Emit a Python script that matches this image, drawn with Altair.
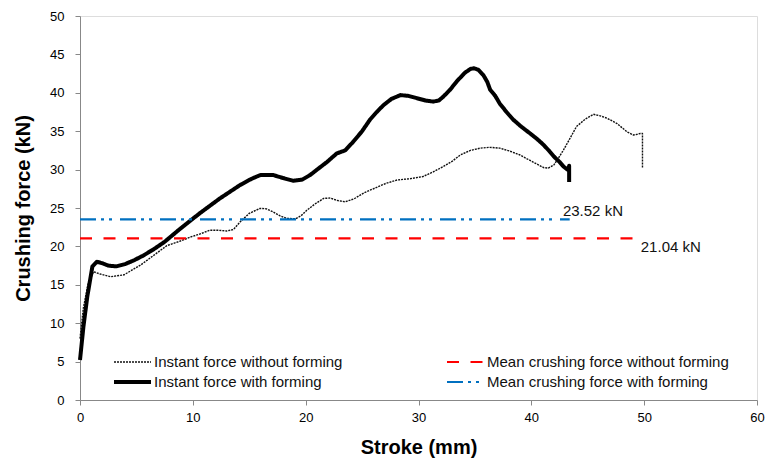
import altair as alt
import pandas as pd

# ---- data ----
with_x = [0, 0.3, 0.65, 1.1, 1.5, 2.0, 2.5, 3.2, 4.0, 4.8, 5.6, 6.5, 7.5, 8.8, 10.6, 12.4,
          14.2, 15.2, 16.0, 17.1, 18.0, 18.9, 19.7, 20.4, 21.1, 21.9, 22.75, 23.5, 24.2, 25.0,
          25.7, 26.3, 26.9, 27.6, 28.4, 29.1, 29.85, 30.6, 31.3, 31.8, 32.2, 32.8, 33.4, 34.1,
          34.6, 34.9, 35.3, 35.75, 36.1, 36.35, 36.8, 37.2, 37.8, 38.4, 39.1, 39.9, 40.5, 41.1,
          41.6, 42.0, 42.5, 42.85, 43.3, 43.35, 43.35]
with_y = [5.2, 9.5, 13.5, 17.4, 18.0, 17.8, 17.5, 17.4, 17.7, 18.2, 18.8, 19.6, 20.6, 22.2,
          24.3, 26.25, 28.0, 28.8, 29.3, 29.3, 28.9, 28.55, 28.7, 29.3, 30.1, 31.0, 32.1, 32.5,
          33.6, 35.0, 36.5, 37.5, 38.4, 39.2, 39.7, 39.6, 39.3, 39.0, 38.85, 39.0, 39.5, 40.4,
          41.5, 42.6, 43.1, 43.2, 43.0, 42.3, 41.4, 40.4, 39.6, 38.6, 37.5, 36.5, 35.6, 34.7,
          34.0, 33.2, 32.4, 31.7, 31.0, 30.4, 29.9, 30.5, 28.4]

without_x = [0, 0.3, 0.7, 1.2, 1.8, 2.7, 3.9, 5.4, 6.5, 7.7, 8.9, 9.75, 10.6, 11.5, 12.3, 13.0,
             13.6, 14.2, 15.0, 15.96, 16.5, 17.1, 17.7, 18.3, 19.1, 19.6, 20.1, 20.8, 21.6, 22.2,
             22.75, 23.5, 24.3, 25.2, 26.15, 27.1, 28.1, 29.2, 30.4, 31.3, 32.2, 33.0, 33.7, 34.6,
             35.5, 36.3, 37.2, 38.1, 39.0, 40.0, 41.1, 41.5, 42.0, 42.4, 42.85, 43.4, 44.0, 44.8,
             45.5, 46.1, 46.7, 47.6, 48.0, 48.5, 49.05, 49.4, 49.65, 49.85, 49.85]
without_y = [8, 12, 15, 16.7, 16.4, 16.05, 16.3, 17.6, 18.8, 20.1, 20.7, 21.2, 21.6, 22.1, 22.1,
             22.0, 22.2, 23.2, 24.3, 24.95, 24.9, 24.5, 24.0, 23.65, 23.6, 24.0, 24.7, 25.5, 26.25,
             26.3, 26.0, 25.8, 26.2, 27.0, 27.6, 28.2, 28.65, 28.8, 29.1, 29.7, 30.4, 31.1, 31.9,
             32.5, 32.8, 32.9, 32.8, 32.4, 31.9, 31.1, 30.25, 30.2, 30.6, 31.5, 32.55, 34.0, 35.6,
             36.6, 37.2, 37.0, 36.7, 36.0, 35.5, 34.9, 34.5, 34.6, 34.7, 34.7, 30.2]

mean_without = 21.04
mean_with = 23.52
mean_without_x = [0, 49.3]
mean_with_x = [0, 43.4]

# legend is filled column by column: left column = instant forces, right = means
series_names = ["Instant force without forming", "Instant force with forming",
                "Mean crushing force without forming", "Mean crushing force with forming"]
series_colors = ["#111111", "#000000", "#ff0000", "#0070c0"]
series_dash = [[2, 1], [1, 0], [12, 11.5], [16, 5, 3, 5, 3, 8]]
series_width = [1.4, 4.0, 2.2, 2.2]

label_text = ["23.52 kN", "21.04 kN"]
label_x = [42.8, 49.7]
label_y = [24.6, 19.9]

rows = []
for i, (x, y) in enumerate(zip(without_x, without_y)):
    rows.append({"series": series_names[0], "x": x, "y": y, "o": i})
for i, x in enumerate(mean_without_x):
    rows.append({"series": series_names[2], "x": x, "y": mean_without, "o": i})
for i, (x, y) in enumerate(zip(with_x, with_y)):
    rows.append({"series": series_names[1], "x": x, "y": y, "o": i})
for i, x in enumerate(mean_with_x):
    rows.append({"series": series_names[3], "x": x, "y": mean_with, "o": i})
df = pd.DataFrame(rows)

labels = pd.DataFrame({"x": label_x, "y": label_y, "t": label_text})

FONT = "Liberation Sans"

xs = alt.X("x:Q", scale=alt.Scale(domain=[0, 60], nice=False),
           axis=alt.Axis(title="Stroke (mm)", values=list(range(0, 61, 10)), grid=False,
                         labelFontSize=13, labelPadding=6, tickSize=5, titleFontSize=20,
                         titleFontWeight="bold", titlePadding=13, labelFlush=False,
                         labelOverlap=False))
ys = alt.Y("y:Q", scale=alt.Scale(domain=[0, 50], nice=False),
           axis=alt.Axis(title="Crushing force (kN)", values=list(range(0, 51, 5)), grid=False,
                         labelFontSize=13, labelPadding=11, tickSize=5, titleFontSize=20,
                         titleFontWeight="bold", titlePadding=16, labelFlush=False,
                         labelOverlap=False))

legend = alt.Legend(title=None, orient="none", legendX=32, legendY=336, columns=2,
                    columnPadding=102, rowPadding=0, symbolType="stroke", symbolSize=1369,
                    labelFontSize=15, labelFont=FONT, labelColor="#111", labelOffset=1,
                    labelLimit=400, padding=0, clipHeight=20)

lines = alt.Chart(df).mark_line(strokeCap="butt", strokeJoin="round").encode(
    x=xs, y=ys, order="o:Q",
    color=alt.Color("series:N", scale=alt.Scale(domain=series_names, range=series_colors),
                    legend=legend),
    strokeDash=alt.StrokeDash("series:N", scale=alt.Scale(domain=series_names, range=series_dash),
                              legend=legend),
    strokeWidth=alt.StrokeWidth("series:N", scale=alt.Scale(type="ordinal", domain=series_names,
                                                            range=series_width),
                                legend=legend),
    detail="series:N",
)

texts = alt.Chart(labels).mark_text(align="left", baseline="middle", fontSize=15, font=FONT,
                                    color="#111").encode(x=xs, y=ys, text="t:N")

chart = alt.layer(lines, texts).properties(
    width=677, height=384,
    autosize=alt.AutoSizeParams(type="none"),
    padding={"left": 80, "top": 16, "right": 9, "bottom": 58},
).configure_view(stroke="#6e6e6e", strokeWidth=1.5).configure_axis(
    domainColor="#6e6e6e", domainWidth=1.5, tickColor="#6e6e6e", tickWidth=1.2,
    labelFont=FONT, titleFont=FONT, labelColor="#222", titleColor="#000",
).configure(background="white")

chart.save("out.html", embed_options={"renderer": "svg", "actions": False})
